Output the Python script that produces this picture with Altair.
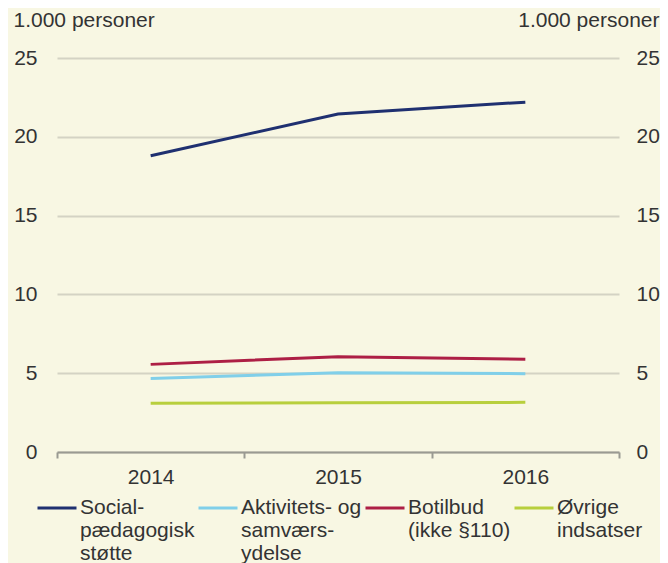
import altair as alt
import pandas as pd

years = ["2014", "2015", "2016"]
series = [
    "Social-|pædagogisk|støtte",
    "Aktivitets- og|samværs-|ydelse",
    "Botilbud|(ikke §110)| ",
    "Øvrige|indsatser| ",
]
social = [18.8, 21.45, 22.2]
aktivitet = [4.67, 5.03, 4.97]
botilbud = [5.56, 6.05, 5.88]
ovrige = [3.09, 3.13, 3.15]
colors = ["#1f3070", "#80cfe9", "#ad1f45", "#b8cf3d"]

rows = []
for name, vals in zip(series, [social, aktivitet, botilbud, ovrige]):
    for y, v in zip(years, vals):
        rows.append({"year": y, "series": name, "value": v})
df = pd.DataFrame(rows)

FONT = "Liberation Sans"
TXT = "#333333"

base = alt.Chart(df).encode(
    x=alt.X(
        "year:N",
        title=None,
        scale=alt.Scale(paddingInner=0, paddingOuter=0),
        axis=alt.Axis(
            labelAngle=0,
            tickBand="extent",
            tickSize=6,
            tickColor="#9a9a92",
            tickWidth=2,
            domainColor="#9a9a92",
            domainWidth=2,
            labelPadding=8,
            grid=False,
        ),
    ),
)

lines = base.mark_line(strokeWidth=3).encode(
    y=alt.Y(
        "value:Q",
        scale=alt.Scale(domain=[0, 25]),
        axis=alt.Axis(
            orient="left",
            values=[0, 5, 10, 15, 20, 25],
            title="1.000 personer",
            titleAngle=0,
            titleX=-44,
            titleY=-38,
            titleAlign="left",
            titleBaseline="middle",
            domain=False,
            ticks=False,
            labelPadding=20,
            grid=True,
            gridColor="#d4d3c4",
            gridWidth=2,
        ),
    ),
    color=alt.Color(
        "series:N",
        sort=series,
        scale=alt.Scale(domain=series, range=colors),
        legend=alt.Legend(
            title=None,
            orient="none",
            legendX=-21,
            legendY=429,
            direction="horizontal",
            columns=4,
            gridAlign="none",
            columnPadding=-3,
            symbolType="stroke",
            symbolSize=1521,
            symbolStrokeWidth=3,
            labelOffset=2,
            labelExpr="split(datum.label, '|')",
            labelLimit=300,
        ),
    ),
)

right = base.mark_line(opacity=0).encode(
    y=alt.Y(
        "value:Q",
        scale=alt.Scale(domain=[0, 25]),
        axis=alt.Axis(
            orient="right",
            values=[0, 5, 10, 15, 20, 25],
            title="1.000 personer",
            titleAngle=0,
            titleX=40,
            titleY=-38,
            titleAlign="right",
            titleBaseline="middle",
            domain=False,
            ticks=False,
            labelPadding=17,
            grid=False,
        ),
    ),
    detail="series:N",
)

chart = (
    alt.layer(lines, right)
    .resolve_scale(y="independent")
    .properties(
        width=562,
        height=394,
        background="#f8f7e3",
        autosize=alt.AutoSizeParams(type="none"),
        padding={"left": 49, "top": 50, "right": 41, "bottom": 111},
    )
    .configure_view(stroke=None)
    .configure_axis(
        labelFont=FONT,
        titleFont=FONT,
        labelFontSize=21,
        titleFontSize=21,
        titleFontWeight="normal",
        labelColor=TXT,
        titleColor=TXT,
    )
    .configure_legend(labelFont=FONT, labelFontSize=21, labelColor=TXT)
)

chart.save("out.html", embed_options={"renderer": "svg", "actions": False})
